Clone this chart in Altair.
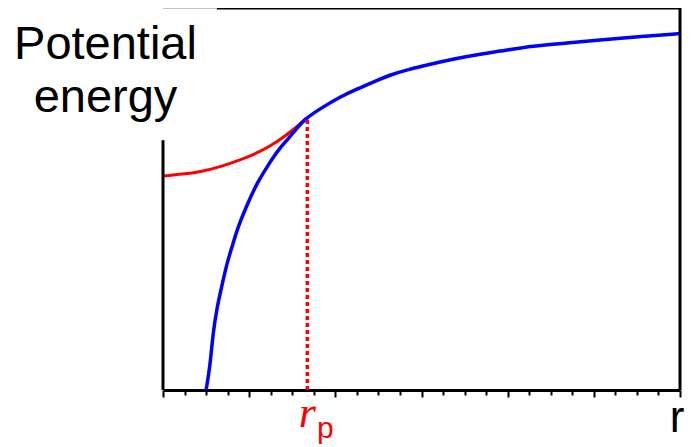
import altair as alt
import pandas as pd

# Blue curve (total potential energy)
blue_r = [2.0, 2.18, 2.32, 2.51, 2.74, 2.97, 3.20, 3.48, 3.90, 4.36, 4.97, 5.43,
          5.76, 6.22, 6.64, 7.43, 8.22, 9.01, 9.75, 10.54, 11.33, 12.26, 14.11,
          15.65, 17.18, 18.76, 20.29, 21.82, 24.0]
blue_e = [0.0, 6.0, 14.9, 21.7, 27.5, 33.2, 37.4, 42.7, 48.4, 54.2, 59.7, 63.4,
          65.4, 68.6, 71.2, 74.1, 76.7, 78.8, 80.6, 82.5, 83.8, 85.1, 87.4,
          88.7, 90.1, 90.8, 91.6, 92.4, 93.3]

# Red curve (inside region)
red_r = [0.0, 0.93, 1.72, 2.65, 3.57, 4.50, 5.29, 5.90, 6.36, 6.64]
red_e = [56.0, 56.5, 57.1, 58.4, 60.2, 62.3, 64.9, 67.5, 69.6, 71.2]

rp = 6.7
rp_e = 71.0
tick_values = list(range(25))

# frame segments: left axis stub, right side, top side
frame_x = [0, 24, 2.5]
frame_x2 = [0, 24, 24]
frame_y = [0, 0, 100]
frame_y2 = [65.4, 100, 100]

blue_df = pd.DataFrame({"r": blue_r, "e": blue_e})
red_df = pd.DataFrame({"r": red_r, "e": red_e})
rp_df = pd.DataFrame({"r": [rp], "e": [0.0], "e1": [rp_e]})
frame_df = pd.DataFrame({"r": frame_x, "r2": frame_x2, "e": frame_y, "e2": frame_y2})
grey_df = pd.DataFrame({"r": [0.0], "r2": [2.5], "e": [100.0]})
rlab_df = pd.DataFrame({"r": [24.0], "t": ["r"]})
rp_lab_df = pd.DataFrame({"r": [rp], "t": ["r"], "s": ["p"]})

xscale = alt.Scale(domain=[0, 24], nice=False, zero=False)
yscale = alt.Scale(domain=[0, 100], nice=False, zero=False)

x_axis = alt.Axis(
    values=tick_values, labels=False, title=None, grid=False,
    domainColor="black", domainWidth=3, tickColor="black", tickWidth=2,
    tickSize={"condition": {"test": "datum.value % 4 === 0", "value": 7}, "value": 5},
)
y_axis = alt.Axis(
    title=["Potential", "energy"], domain=False, ticks=False, labels=False, grid=False,
    titleAngle=0, titleX=-58, titleY=13, titleAlign="center", titleBaseline="top",
    titleFont="Liberation Sans", titleFontSize=47, titleFontWeight="normal",
    titleColor="black", titleLineHeight=53,
)


def X(field="r"):
    return alt.X(f"{field}:Q", scale=xscale, axis=x_axis)


def Y(field="e"):
    return alt.Y(f"{field}:Q", scale=yscale, axis=y_axis)


red = alt.Chart(red_df).mark_line(color="#ff0000", strokeWidth=3, interpolate="basis").encode(
    x=X(), y=Y(),
)
blue = alt.Chart(blue_df).mark_line(color="#0000ff", strokeWidth=3.5, interpolate="basis").encode(
    x=X(), y=Y(),
)
dotted = alt.Chart(rp_df).mark_rule(color="#ff0000", strokeWidth=3.5, strokeDash=[4, 3]).encode(
    x=X(), y=Y(), y2="e1:Q",
)
frame = alt.Chart(frame_df).mark_rule(color="black", strokeWidth=3).encode(
    x=X(), x2="r2:Q", y=Y(), y2="e2:Q",
)
grey = alt.Chart(grey_df).mark_rule(color="#888888", strokeWidth=1).encode(
    x=X(), x2="r2:Q", y=Y(),
)
r_label = alt.Chart(rlab_df).mark_text(
    font="Liberation Sans", fontSize=44, color="black", align="center",
    baseline="alphabetic", dx=-3,
).encode(
    x=X(), y=alt.value(424), text="t:N",
)
rp_r = alt.Chart(rp_lab_df).mark_text(
    font="Liberation Serif", fontStyle="italic", fontSize=44, color="#ff0000",
    align="center", baseline="alphabetic", dx=0,
).encode(
    x=X(), y=alt.value(419), text="t:N",
)
rp_p = alt.Chart(rp_lab_df).mark_text(
    font="Liberation Sans", fontSize=30, color="#ff0000",
    align="center", baseline="alphabetic", dx=18,
).encode(
    x=X(), y=alt.value(430), text="s:N",
)

chart = alt.layer(red, blue, dotted, frame, grey, r_label, rp_r, rp_p).properties(
    width=517, height=382,
    autosize=alt.AutoSizeParams(type="none"),
    padding={"left": 155, "top": 0, "right": 5, "bottom": 57},
    background="white",
).configure_view(stroke=None)

chart.save("out.html", embed_options={"renderer": "svg", "actions": False})
